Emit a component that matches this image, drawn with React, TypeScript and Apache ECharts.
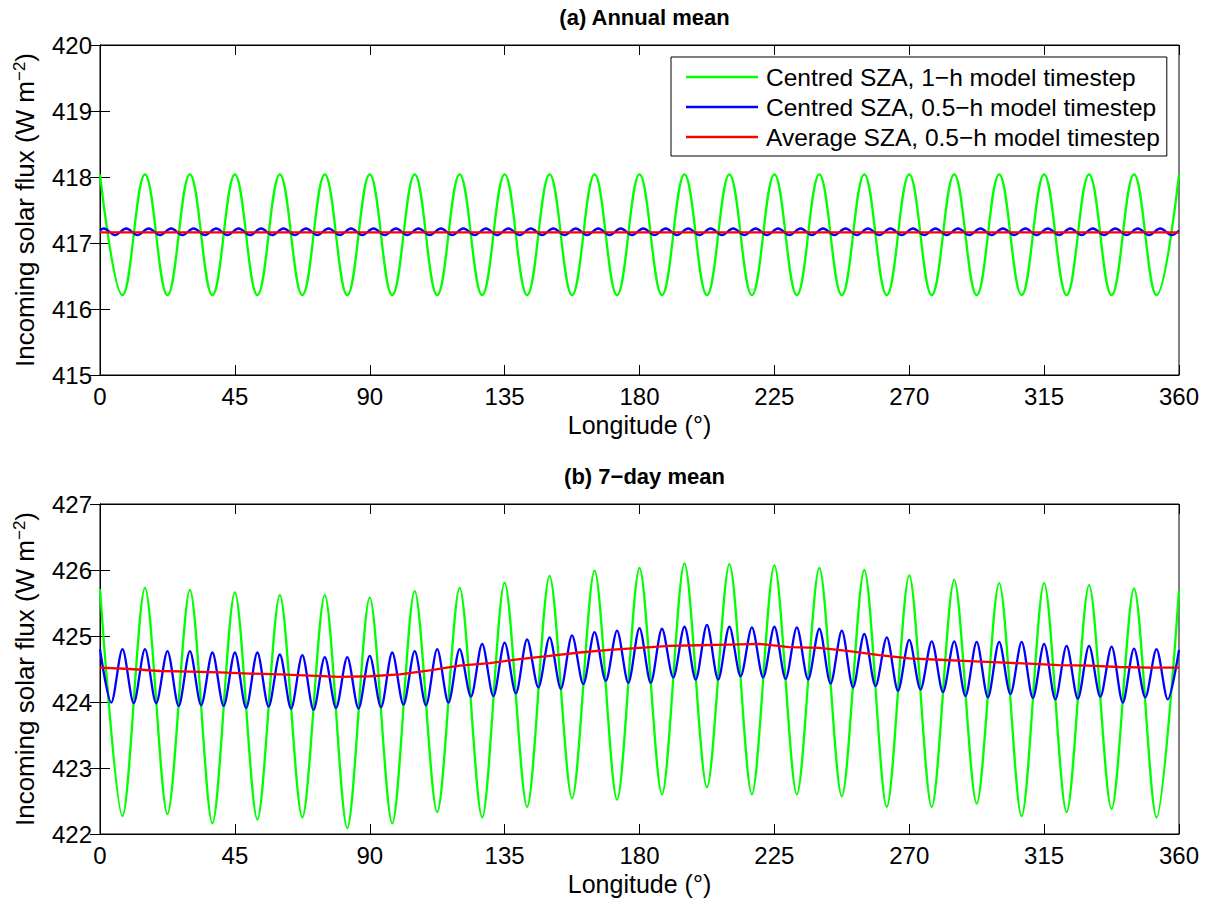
import React, { useEffect, useRef } from "react";
import * as echarts from "echarts";

// ---------- Data ----------
// Panel (a) Annual mean
// Green: Centred SZA, 1-h timestep: peaks at 0,15,...,360 ; troughs at 7.5,22.5,...,352.5
const GREEN_A_PEAKS = [
  418.04, 418.04, 418.04, 418.04, 418.04, 418.04, 418.04, 418.04, 418.04, 418.04,
  418.04, 418.04, 418.04, 418.04, 418.04, 418.04, 418.04, 418.04, 418.04, 418.04,
  418.04, 418.04, 418.04, 418.04, 418.04,
];
const GREEN_A_TROUGHS = [
  416.21, 416.21, 416.21, 416.21, 416.21, 416.21, 416.21, 416.21, 416.21, 416.21,
  416.21, 416.21, 416.21, 416.21, 416.21, 416.21, 416.21, 416.21, 416.21, 416.21,
  416.21, 416.21, 416.21, 416.21,
];
// Blue: Centred SZA, 0.5-h timestep: peaks at 1.25+7.5k ; troughs at 5+7.5k ; edges at 0 and 360
const BLUE_A_PEAKS = new Array(48).fill(417.22);
const BLUE_A_TROUGHS = new Array(48).fill(417.12);
const BLUE_A_EDGES = [417.19, 417.19];
// Red: Average SZA, 0.5-h timestep, every 30 deg
const RED_A = [417.16, 417.16, 417.16, 417.16, 417.16, 417.16, 417.16, 417.16, 417.16, 417.16, 417.16, 417.16, 417.16];

// Panel (b) 7-day mean
const GREEN_B_PEAKS = [
  425.71, 425.73, 425.70, 425.66, 425.62, 425.62, 425.58, 425.68, 425.73, 425.81,
  425.91, 425.99, 426.03, 426.10, 426.09, 426.07, 426.03, 426.00, 425.92, 425.85,
  425.80, 425.80, 425.77, 425.72, 425.69,
];
const GREEN_B_TROUGHS = [
  422.27, 422.30, 422.16, 422.22, 422.25, 422.09, 422.16, 422.33, 422.25, 422.41,
  422.54, 422.52, 422.60, 422.71, 422.60, 422.60, 422.57, 422.41, 422.41, 422.46,
  422.27, 422.33, 422.38, 422.25,
];
// Blue peaks at 0,7.5,...,360 ; troughs at 3.75+7.5k
const BLUE_B_PEAKS = [
  424.80, 424.80, 424.80, 424.77, 424.77, 424.75, 424.75, 424.75, 424.72, 424.71,
  424.68, 424.68, 424.70, 424.75, 424.77, 424.80, 424.80, 424.88, 424.90, 424.95,
  424.98, 425.01, 425.06, 425.08, 425.12, 425.11, 425.14, 425.17, 425.14, 425.13,
  425.14, 425.13, 425.11, 425.08, 425.03, 424.98, 424.94, 424.92, 424.92, 424.91,
  424.91, 424.91, 424.88, 424.85, 424.85, 424.84, 424.81, 424.80, 424.79,
];
const BLUE_B_TROUGHS = [
  423.99, 423.98, 423.98, 423.94, 423.95, 423.94, 423.91, 423.93, 423.90, 423.88,
  423.91, 423.90, 423.92, 423.96, 423.95, 423.99, 424.08, 424.09, 424.13, 424.22,
  424.20, 424.27, 424.32, 424.29, 424.29, 424.37, 424.34, 424.34, 424.39, 424.37,
  424.35, 424.34, 424.28, 424.22, 424.24, 424.17, 424.19, 424.15, 424.09, 424.07,
  424.12, 424.06, 424.04, 424.05, 424.08, 423.99, 424.07, 424.04,
];
// Red every 10 deg
const RED_B = [
  424.52, 424.50, 424.47, 424.46, 424.45, 424.43, 424.42, 424.40, 424.38, 424.39,
  424.42, 424.48, 424.55, 424.59, 424.65, 424.70, 424.75, 424.79, 424.82, 424.85,
  424.86, 424.87, 424.88, 424.83, 424.82, 424.77, 424.71, 424.66, 424.64, 424.62,
  424.60, 424.58, 424.56, 424.55, 424.53, 424.52, 424.52,
];

const NAMES = [
  "Centred SZA, 1\u2212h model timestep",
  "Centred SZA, 0.5\u2212h model timestep",
  "Average SZA, 0.5\u2212h model timestep",
];
const COLORS = ["#00ff00", "#0000ff", "#ff0000"];

function merge(
  peaks: number[], peakStart: number, troughs: number[], troughStart: number, step: number,
  extra: [number, number][] = []
): [number, number][] {
  const pts: [number, number][] = [];
  peaks.forEach((v, i) => pts.push([peakStart + i * step, v]));
  troughs.forEach((v, i) => pts.push([troughStart + i * step, v]));
  extra.forEach((p) => pts.push(p));
  pts.sort((a, b) => a[0] - b[0]);
  return pts;
}
function even(values: number[], step: number): [number, number][] {
  return values.map((v, i) => [i * step, v]);
}

const FONT = "'Liberation Sans', Arial, Helvetica, sans-serif";

export default function App() {
  const ref = useRef<HTMLDivElement>(null);
  useEffect(() => {
    if (!ref.current) return;
    const chart = echarts.init(ref.current, undefined, { renderer: "svg" });

    const grids = [
      { left: 100, top: 45, width: 1079, height: 330 },
      { left: 100, top: 504, width: 1079, height: 330 },
    ];
    const yRanges = [
      [415, 420],
      [422, 427],
    ];
    const axisLine = { show: true, lineStyle: { color: "#000", width: 1 } };
    const tick = { show: true, inside: true, length: 10, lineStyle: { color: "#000", width: 1 } };
    const labelStyle = { color: "#000", fontSize: 24, fontFamily: FONT };

    const xAxis: any[] = [];
    const yAxis: any[] = [];
    grids.forEach((_, g) => {
      xAxis.push({
        type: "value", gridIndex: g, min: 0, max: 360, interval: 45, position: "bottom",
        axisLine, axisTick: tick, splitLine: { show: false },
        axisLabel: { ...labelStyle, margin: 9 },
        name: "Longitude (\u00b0)", nameLocation: "middle", nameGap: 37,
        nameTextStyle: { color: "#000", fontSize: 25, fontFamily: FONT },
      });
      xAxis.push({
        type: "value", gridIndex: g, min: 0, max: 360, interval: 45, position: "top",
        axisLine, axisTick: tick, splitLine: { show: false }, axisLabel: { show: false },
      });
      yAxis.push({
        type: "value", gridIndex: g, min: yRanges[g][0], max: yRanges[g][1], interval: 1, position: "left",
        axisLine, axisTick: tick, splitLine: { show: false },
        axisLabel: { ...labelStyle, margin: 8 },
        name: "Incoming solar flux (W m{sup|\u22122})", nameLocation: "middle", nameGap: 62, nameRotate: 90,
        nameTextStyle: {
          color: "#000", fontSize: 26, fontFamily: FONT,
          rich: { sup: { fontSize: 17, fontFamily: FONT, color: "#000", verticalAlign: "top", padding: [0, 0, 10, 0] } },
        },
      });
      yAxis.push({
        type: "value", gridIndex: g, min: yRanges[g][0], max: yRanges[g][1], interval: 1, position: "right",
        axisLine, axisTick: tick, splitLine: { show: false }, axisLabel: { show: false },
      });
    });

    const line = (name: string, color: string, data: any, g: number, smooth: number) => ({
      type: "line", name, data, xAxisIndex: g * 2, yAxisIndex: g * 2, symbol: "none",
      smooth, lineStyle: { color, width: 2.3 }, itemStyle: { color }, silent: true,
    });

    const series = [
      line(NAMES[0], COLORS[0], merge(GREEN_A_PEAKS, 0, GREEN_A_TROUGHS, 7.5, 15), 0, 0.4),
      line(NAMES[1], COLORS[1], merge(BLUE_A_PEAKS, 1.25, BLUE_A_TROUGHS, 5, 7.5, [[0, BLUE_A_EDGES[0]], [360, BLUE_A_EDGES[1]]]), 0, 0.4),
      line(NAMES[2], COLORS[2], even(RED_A, 30), 0, 0),
      line(NAMES[0], COLORS[0], merge(GREEN_B_PEAKS, 0, GREEN_B_TROUGHS, 7.5, 15), 1, 0.3),
      line(NAMES[1], COLORS[1], merge(BLUE_B_PEAKS, 0, BLUE_B_TROUGHS, 3.75, 7.5), 1, 0.3),
      line(NAMES[2], COLORS[2], even(RED_B, 10), 1, 0),
    ];

    chart.setOption({
      animation: false,
      backgroundColor: "#fff",
      title: [
        { text: "(a) Annual mean", left: 639.5, top: 1, textAlign: "center",
          textStyle: { fontSize: 22, fontWeight: "bold", color: "#000", fontFamily: FONT } },
        { text: "(b) 7\u2212day mean", left: 639.5, top: 460, textAlign: "center",
          textStyle: { fontSize: 22, fontWeight: "bold", color: "#000", fontFamily: FONT } },
      ],
      legend: {
        data: NAMES.map((n, i) => ({ name: n, icon: "rect", itemStyle: { color: COLORS[i] } })),
        orient: "vertical", left: 671, top: 57,
        backgroundColor: "#fff", borderColor: "#000", borderWidth: 1, borderRadius: 0,
        padding: [5, 7, 4, 15], itemWidth: 72, itemHeight: 2.3, itemGap: 0,
        textStyle: { fontSize: 24.5, fontFamily: FONT, color: "#000", lineHeight: 30, padding: [0, 0, 0, 3] },
        selectedMode: false,
      },
      grid: grids.map((g) => ({ ...g, show: true, borderColor: "#000", borderWidth: 1, backgroundColor: "#fff" })),
      xAxis, yAxis, series,
    });
    return () => chart.dispose();
  }, []);
  return <div ref={ref} style={{ position: "absolute", left: 0, top: 0, width: 1209, height: 900 }} />;
}
